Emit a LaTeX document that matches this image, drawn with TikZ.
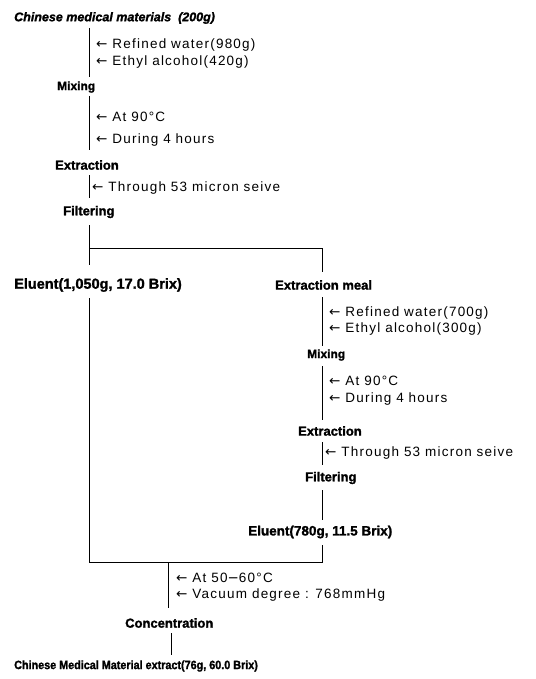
\documentclass[tikz,border=0pt]{standalone}
\usepackage{graphicx}
\usepackage{fontspec}
\setmainfont{Liberation Sans}
\newfontfamily\arr{DejaVu Sans}
\newfontfamily\labfont[LetterSpace=9]{Liberation Sans}
\newfontfamily\heavy[BoldFeatures={FakeBold=1.5},BoldItalicFeatures={FakeBold=1.5}]{Liberation Sans}
\begin{document}
\begin{tikzpicture}[x=1pt,y=-1pt,
  head/.style={anchor=west,inner sep=0pt,font=\heavy\fontsize{13}{15}\selectfont\bfseries},
  lab/.style={anchor=west,inner sep=0pt,font=\labfont\fontsize{13.5}{15}\selectfont},
  conn/.style={line width=0.9pt}]
\useasboundingbox (0,0) rectangle (535,679);
\fill[white] (0,0) rectangle (535,679);
% headings
\node[head,font=\heavy\fontsize{12.5}{15}\selectfont\bfseries\itshape] (t0) at (14,18) {Chinese medical materials\ \ (200g)};
\node[head,font=\heavy\fontsize{12}{14}\selectfont\bfseries] (mix1) at (57,87) {Mixing};
\node[head] (ext1) at (55,165) {Extraction};
\node[head] (fil1) at (63,212) {Filtering};
\node[head,font=\heavy\fontsize{14.5}{16}\selectfont\bfseries] (elu1) at (14,285) {Eluent(1,050g, 17.0 Brix)};
\node[head] (meal) at (275,285) {Extraction meal};
\node[head,font=\heavy\fontsize{12}{14}\selectfont\bfseries] (mix2) at (307,355) {Mixing};
\node[head] (ext2) at (298,431) {Extraction};
\node[head] (fil2) at (305,478) {Filtering};
\node[head,font=\heavy\fontsize{13.5}{15}\selectfont\bfseries] (elu2) at (248,532) {Eluent(780g, 11.5 Brix)};
\node[head] (conc) at (125,623) {Concentration};
\node[head,font=\heavy\fontsize{12}{14}\selectfont\bfseries] (fin) at (14,666) {\scalebox{0.9}[1]{Chinese Medical Material extract(76g, 60.0 Brix)}};
% labels
\node[lab] (l1) at (96,45) {{\arr ←} Refined water(980g)};
\node[lab] (l2) at (96,62) {{\arr ←} Ethyl alcohol(420g)};
\node[lab] (l3) at (96,117) {{\arr ←} At 90°C};
\node[lab] (l4) at (96,140) {{\arr ←} During 4 hours};
\node[lab] (l5) at (92,188) {{\arr ←} Through 53 micron seive};
\node[lab] (r1) at (329,313) {{\arr ←} Refined water(700g)};
\node[lab] (r2) at (329,329) {{\arr ←} Ethyl alcohol(300g)};
\node[lab] (r3) at (329,381) {{\arr ←} At 90°C};
\node[lab] (r4) at (329,399) {{\arr ←} During 4 hours};
\node[lab] (r5) at (325,453) {{\arr ←} Through 53 micron seive};
\node[lab] (c1) at (176,578) {{\arr ←} At 50{\arr −}60°C};
\node[lab] (c2) at (176,595) {{\arr ←} Vacuum degree : 768mmHg};
% coordinates
\coordinate (a0) at (89,28);
\coordinate (a1) at (89,77);
\coordinate (a2) at (89,96);
\coordinate (a3) at (89,150);
\coordinate (a4) at (89,175);
\coordinate (a5) at (89,198);
\coordinate (a6) at (89,225);
\coordinate (a7) at (89,265);
\coordinate (a8) at (89,298);
\coordinate (a9) at (89,562);
\coordinate (br) at (322,248);
\coordinate (b0) at (322,272);
\coordinate (b1) at (322,297);
\coordinate (b2) at (322,346);
\coordinate (b3) at (322,366);
\coordinate (b4) at (322,420);
\coordinate (b5) at (322,442);
\coordinate (b6) at (322,465);
\coordinate (b7) at (322,490);
\coordinate (b8) at (322,520);
\coordinate (b9) at (322,545);
\coordinate (b10) at (322,562);
\coordinate (k0) at (168,562);
\coordinate (k1) at (168,608);
\coordinate (k2) at (171,633);
\coordinate (k3) at (171,655);
% connectors
\draw[conn] (a0) -- (a1);
\draw[conn] (a2) -- (a3);
\draw[conn] (a4) -- (a5);
\draw[conn] (a6) -- (a7);
\draw[conn] (a6 |- br) -- (br) -- (b0);
\draw[conn] (a8) -- (a9) -- (b10) -- (b9);
\draw[conn] (b1) -- (b2);
\draw[conn] (b3) -- (b4);
\draw[conn] (b5) -- (b6);
\draw[conn] (b7) -- (b8);
\draw[conn] (k0) -- (k1);
\draw[conn] (k2) -- (k3);
\end{tikzpicture}
\end{document}
